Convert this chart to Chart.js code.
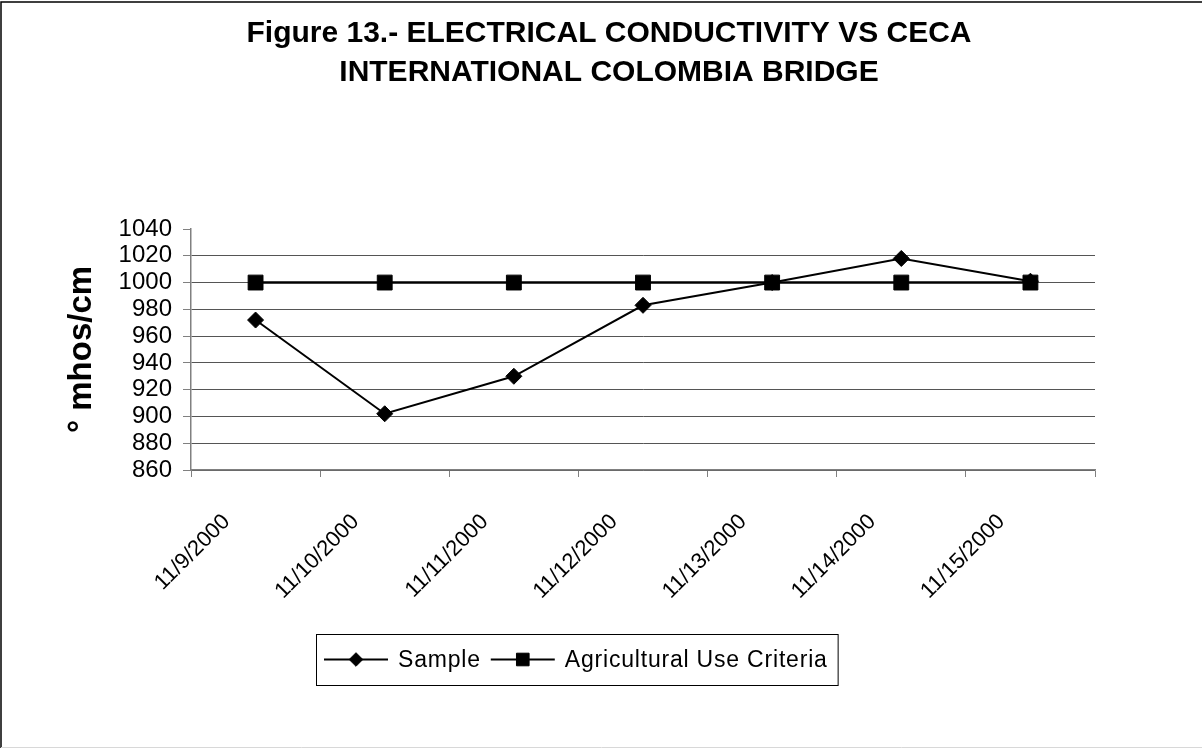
<!DOCTYPE html>
<html>
<head>
<meta charset="utf-8">
<title>Figure 13 - Electrical conductivity vs CECA</title>
<script src="https://cdn.jsdelivr.net/npm/chart.js@4.4.1/dist/chart.umd.min.js"></script>
<style>
  html, body { margin: 0; padding: 0; background: #fff; }
  #wrap { position: relative; width: 1202px; height: 749px; }
  canvas { background: #fff; }
</style>
</head>
<body>
<div id="wrap"><canvas id="chart"></canvas></div>
<script>
const titleLines = [
  "Figure 13.- ELECTRICAL CONDUCTIVITY VS CECA",
  "INTERNATIONAL COLOMBIA BRIDGE"
];
const yAxisTitle = "\u00B0 mhos/cm";
const dates = ["11/9/2000", "11/10/2000", "11/11/2000", "11/12/2000", "11/13/2000", "11/14/2000", "11/15/2000"];
const sampleValues = [972, 902, 930, 983, 1000, 1018, 1001];
const criteriaValues = [1000, 1000, 1000, 1000, 1000, 1000, 1000];
const yTicks = [860, 880, 900, 920, 940, 960, 980, 1000, 1020, 1040];

const FONT = '"Liberation Sans", Arial, Helvetica, sans-serif';

// frame round the whole picture
const frame = {
  id: "frame",
  afterDraw(chart) {
    const ctx = chart.ctx;
    ctx.save();
    ctx.strokeStyle = "#000";
    ctx.lineWidth = 1.5;
    ctx.beginPath();
    ctx.moveTo(1, 748);
    ctx.lineTo(1, 2);
    ctx.lineTo(1202, 2);
    ctx.stroke();
    ctx.strokeStyle = "#d8d8d8";
    ctx.lineWidth = 1;
    ctx.beginPath();
    ctx.moveTo(1, 747.5);
    ctx.lineTo(1202, 747.5);
    ctx.stroke();
    ctx.restore();
  }
};

// Excel style legend: line with marker, inside a box
const boxLegend = {
  id: "boxLegend",
  afterDraw(chart) {
    const ctx = chart.ctx;
    const left = 316, top = 634, h = 51;
    const lineLen = 64, textGap = 10, itemGap = 10;
    const cy = top + h / 2;
    ctx.save();
    ctx.font = "23px " + FONT;
    ctx.letterSpacing = "0.8px";
    ctx.textBaseline = "middle";
    ctx.textAlign = "left";
    let x = left + 8;
    chart.data.datasets.forEach((ds, i) => {
      ctx.strokeStyle = "#000";
      ctx.fillStyle = "#000";
      ctx.lineWidth = 2;
      ctx.beginPath();
      ctx.moveTo(x, cy);
      ctx.lineTo(x + lineLen, cy);
      ctx.stroke();
      ctx.lineWidth = 1;
      Chart.helpers.drawPoint(ctx, {
        pointStyle: ds.pointStyle,
        radius: ds.pointRadius * 0.85,
        borderWidth: 1,
        rotation: 0
      }, x + lineLen / 2, cy);
      x += lineLen + textGap;
      ctx.fillStyle = "#000";
      ctx.fillText(ds.label, x, cy + 1);
      x += ctx.measureText(ds.label).width;
      if (i < chart.data.datasets.length - 1) x += itemGap;
    });
    const right = x + 10;
    ctx.strokeStyle = "#000";
    ctx.lineWidth = 1;
    ctx.strokeRect(left + 0.5, top + 0.5, right - left, h);
    ctx.restore();
  }
};

const ctx = document.getElementById("chart").getContext("2d");
const yMax = yTicks[yTicks.length - 1];

new Chart(ctx, {
  type: "line",
  data: {
    labels: dates,
    datasets: [
      {
        label: "Sample",
        data: sampleValues,
        borderColor: "#000",
        backgroundColor: "#000",
        borderWidth: 2,
        pointStyle: "rectRot",
        pointRadius: 8,
        pointBorderWidth: 1,
        pointBackgroundColor: "#000",
        pointBorderColor: "#000",
        tension: 0,
        order: 1
      },
      {
        label: "Agricultural Use Criteria",
        data: criteriaValues,
        borderColor: "#000",
        backgroundColor: "#000",
        borderWidth: 2.5,
        pointStyle: "rect",
        pointRadius: 10.5,
        pointBorderWidth: 1,
        pointBackgroundColor: "#000",
        pointBorderColor: "#000",
        tension: 0,
        order: 0
      }
    ]
  },
  options: {
    responsive: true,
    maintainAspectRatio: false,
    animation: false,
    layout: { padding: { top: 14, left: 16, right: 0, bottom: 0 } },
    plugins: {
      legend: { display: false },
      tooltip: { enabled: false },
      title: {
        display: true,
        text: titleLines,
        color: "#000",
        font: { family: FONT, size: 30, weight: "bold", lineHeight: 1.3 },
        padding: { top: 0, bottom: 137 }
      }
    },
    scales: {
      x: {
        type: "category",
        offset: true,
        grid: {
          offset: true,
          drawOnChartArea: false,
          drawTicks: true,
          tickLength: 7,
          tickColor: "#808080"
        },
        border: { color: "#808080", width: 1.5 },
        ticks: {
          color: "#000",
          font: { family: FONT, size: 22 },
          maxRotation: 45,
          minRotation: 45,
          autoSkip: false,
          padding: 32,
          labelOffset: -29
        },
        afterFit(scale) { scale.height = 279; }
      },
      y: {
        min: yTicks[0],
        max: yMax,
        afterBuildTicks(scale) {
          scale.ticks = yTicks.map((v) => ({ value: v }));
        },
        ticks: {
          autoSkip: false,
          color: "#000",
          font: { family: FONT, size: 24 },
          padding: 11,
          callback: (v) => String(v)
        },
        grid: {
          color: (c) => (c.tick && c.tick.value === yMax ? "rgba(0,0,0,0)" : "#555"),
          tickColor: "#808080",
          tickLength: 8,
          lineWidth: 1
        },
        border: { color: "#808080", width: 1.5 },
        title: {
          display: true,
          text: yAxisTitle,
          color: "#000",
          font: { family: FONT, size: 33, weight: "bold", lineHeight: 1.2 },
          padding: { top: 46, bottom: 0 }
        },
        afterFit(scale) { scale.width = 175; }
      },
      yRight: {
        position: "right",
        display: true,
        grid: { display: false, drawOnChartArea: false },
        border: { display: false },
        ticks: { display: false },
        afterFit(scale) { scale.width = 107; }
      }
    }
  },
  plugins: [frame, boxLegend]
});
</script>
</body>
</html>
